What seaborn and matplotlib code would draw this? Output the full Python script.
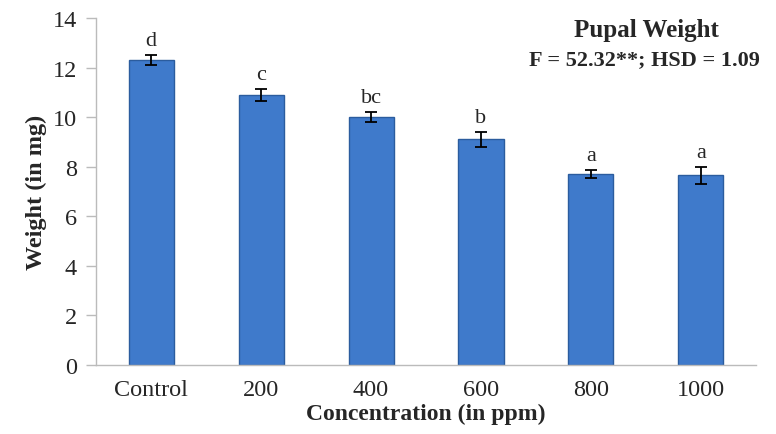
import matplotlib
matplotlib.use("Agg")
import matplotlib.pyplot as plt
import seaborn as sns
import pandas as pd

categories = ["Control", "200", "400", "600", "800", "1000"]
weights = [12.3, 10.9, 10.0, 9.1, 7.7, 7.65]
errors = [0.2, 0.25, 0.2, 0.3, 0.15, 0.35]
letters = ["d", "c", "bc", "b", "a", "a"]
yticks = [0, 2, 4, 6, 8, 10, 12, 14]

df = pd.DataFrame({"Concentration": categories, "Weight": weights})

sns.set_style("white")
plt.rcParams["font.family"] = ["Liberation Serif", "DejaVu Serif"]

fig = plt.figure(figsize=(7.76, 4.35), dpi=100)
ax = fig.add_axes([0.124, 0.159, 0.850, 0.797])

sns.barplot(data=df, x="Concentration", y="Weight", ax=ax, color="#3f7acb",
            width=0.41, edgecolor="#2b5c9e", linewidth=1.0, saturation=1)
ax.errorbar(range(len(categories)), weights, yerr=errors, fmt="none",
            ecolor="black", elinewidth=1.3, capsize=4, capthick=1.3)

for i, (w, e, l) in enumerate(zip(weights, errors, letters)):
    ax.text(i, w + e + 0.2, l, ha="center", va="bottom", fontsize=16)

ax.set_ylim(0, 14)
ax.set_xlim(-0.5, len(categories) - 0.5)
ax.set_yticks(yticks)
ax.set_yticklabels([str(t) for t in yticks], fontsize=17.5)
ax.set_xticks(range(len(categories)))
ax.set_xticklabels(categories, fontsize=17.5)
ax.tick_params(axis="y", left=True, length=7, color="#bbbbbb", width=1, pad=7)
ax.tick_params(axis="x", bottom=False, pad=7)

for s in ["top", "right"]:
    ax.spines[s].set_visible(False)
ax.spines["left"].set_color("#bbbbbb")
ax.spines["bottom"].set_color("#bbbbbb")
ax.spines["left"].set_linewidth(1)
ax.spines["bottom"].set_linewidth(1)

ax.set_ylabel("Weight (in mg)", fontsize=17.5, fontweight="bold", labelpad=4)
ax.set_xlabel("Concentration (in ppm)", fontsize=17, fontweight="bold", labelpad=2)

fig.text(0.833, 0.929, "Pupal Weight", ha="center", va="center", fontsize=18, fontweight="bold")
fig.text(0.831, 0.862, "F = 52.32**; HSD = 1.09", ha="center", va="center", fontsize=16, fontweight="bold")

fig.savefig("out.png", dpi=100)
